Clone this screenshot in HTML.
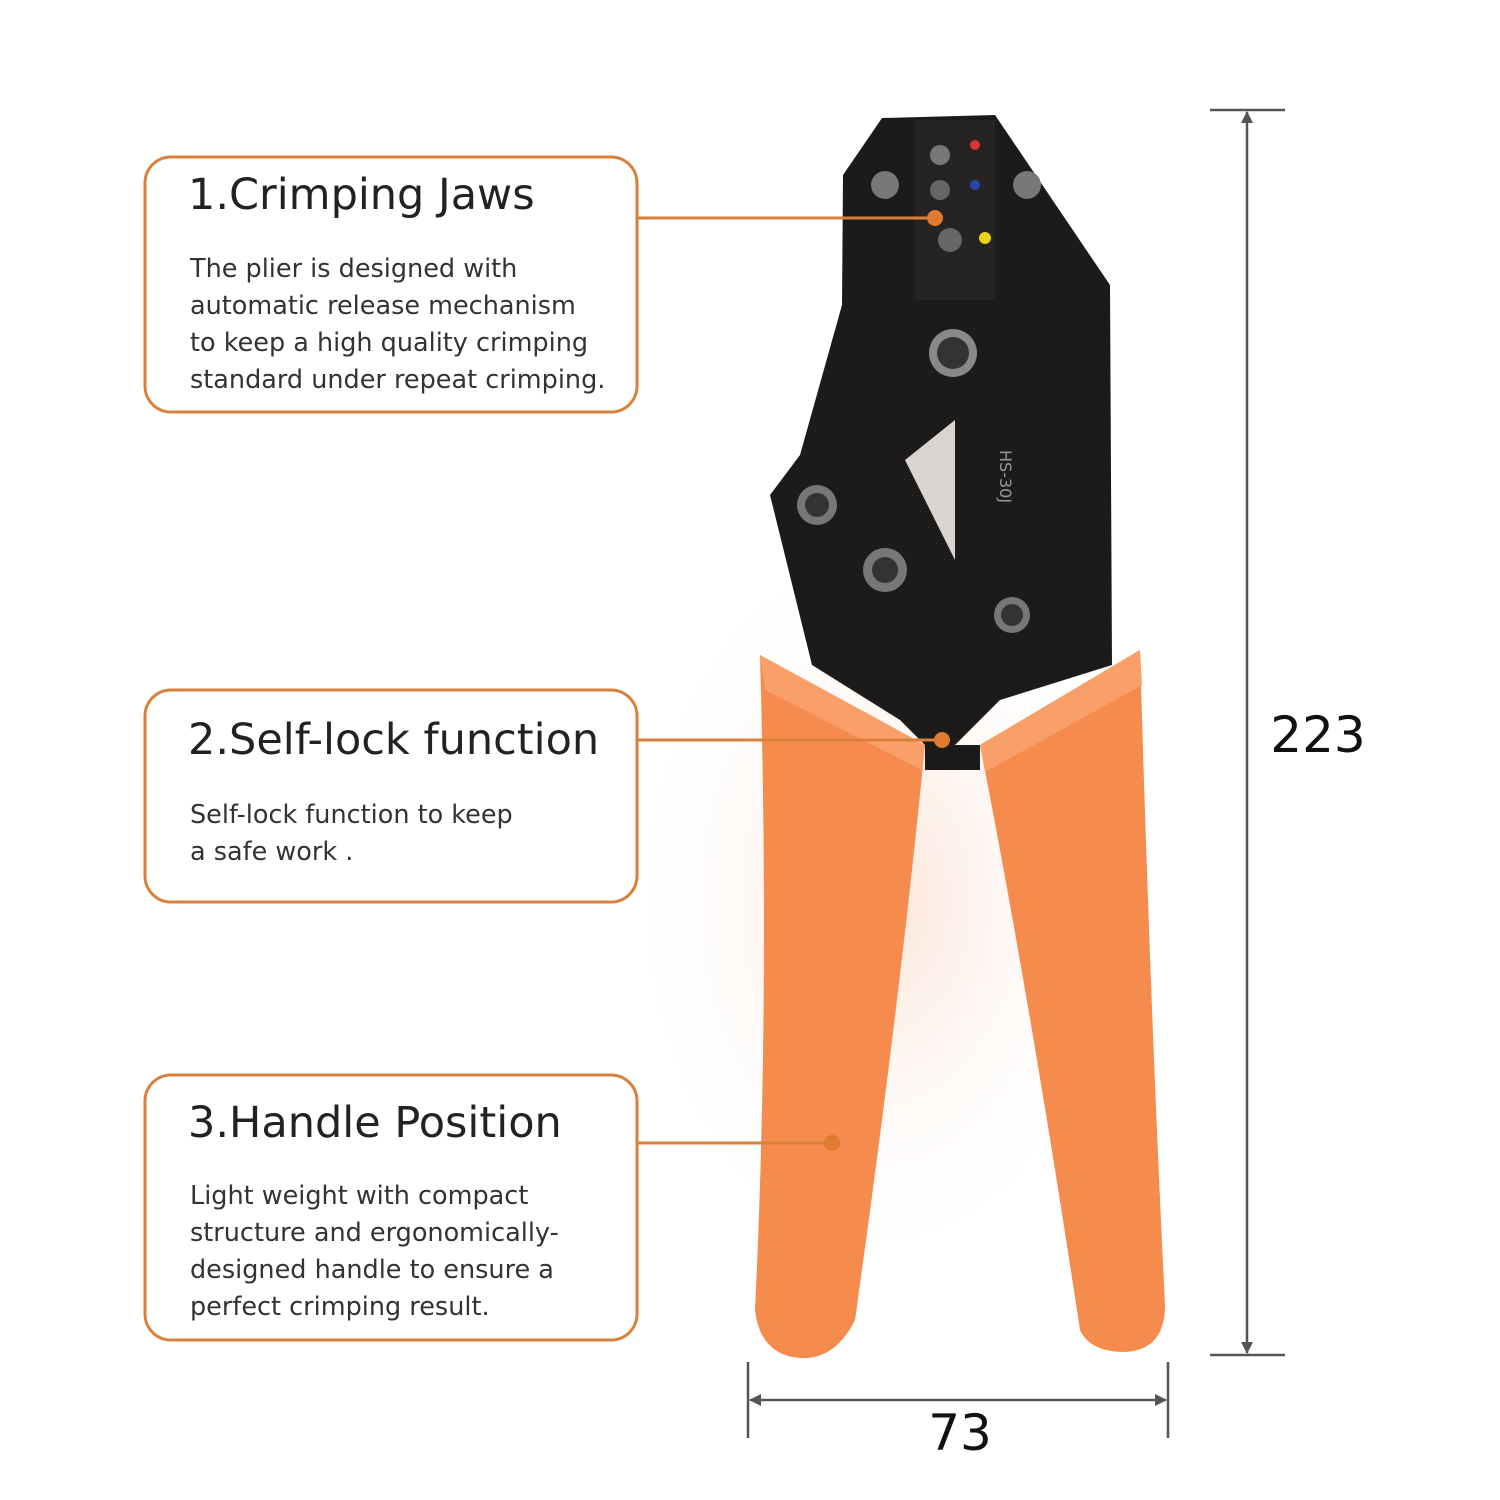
<!DOCTYPE html>
<html><head><meta charset="utf-8"><style>
html,body{margin:0;padding:0;background:#fff}
svg{display:block}
text{font-family:"DejaVu Sans","Liberation Sans",sans-serif}
</style></head><body>
<svg width="1500" height="1500" viewBox="0 0 1500 1500" xmlns="http://www.w3.org/2000/svg">
<defs>
<radialGradient id="glow" cx="0.5" cy="0.5" r="0.5"><stop offset="0" stop-color="#fbe3d6"/><stop offset="1" stop-color="#fff" stop-opacity="0"/></radialGradient>
<marker id="ah" markerWidth="12" markerHeight="12" refX="11" refY="6" orient="auto" markerUnits="userSpaceOnUse"><path d="M0,0 L12,6 L0,12 Z" fill="#555"/></marker>
</defs>
<ellipse cx="880" cy="900" rx="260" ry="380" fill="url(#glow)"/>
<path d="M882,118 L995,115 L1110,285 L1112,665 L1000,700 L940,760 L900,720 L812,665 L770,495 L800,455 L842,305 L843,175 Z" fill="#1d1a1a"/>
<rect x="915" y="120" width="80" height="180" fill="#262323"/>
<circle cx="940" cy="155" r="10" fill="#777"/><circle cx="940" cy="190" r="10" fill="#666"/><circle cx="950" cy="240" r="12" fill="#666"/>
<circle cx="975" cy="145" r="5" fill="#d33"/><circle cx="975" cy="185" r="5" fill="#2748a8"/><circle cx="985" cy="238" r="6" fill="#e8d21a"/>
<circle cx="885" cy="185" r="14" fill="#777"/><circle cx="1027" cy="185" r="14" fill="#777"/>
<circle cx="953" cy="353" r="24" fill="#888"/><circle cx="953" cy="353" r="16" fill="#333"/>
<circle cx="817" cy="505" r="20" fill="#777"/><circle cx="817" cy="505" r="12" fill="#333"/>
<circle cx="885" cy="570" r="22" fill="#777"/><circle cx="885" cy="570" r="13" fill="#333"/>
<circle cx="1012" cy="615" r="18" fill="#777"/><circle cx="1012" cy="615" r="11" fill="#333"/>
<path d="M905,460 L955,420 L955,560 Z" fill="#d8d4d2"/>
<text x="0" y="0" transform="translate(1000,450) rotate(90)" font-size="16" fill="#999">HS-30J</text>
<path d="M760,655 L925,745 Q900,1000 855,1320 Q835,1360 800,1358 Q760,1355 755,1310 Q770,1000 760,655 Z" fill="#f58c4d"/>
<path d="M760,655 L925,745 L922,770 L765,690 Z" fill="#f9a06a"/>
<path d="M980,745 L1140,650 Q1150,1000 1165,1305 Q1165,1350 1125,1352 Q1090,1352 1080,1330 Q1030,1000 980,745 Z" fill="#f58c4d"/>
<path d="M980,745 L1140,650 L1142,685 L985,772 Z" fill="#f9a06a"/>
<rect x="925" y="745" width="55" height="25" fill="#1d1a1a"/>
<g fill="none" stroke="#d9813c" stroke-width="3">
<rect x="145" y="157" width="492" height="255" rx="26"/>
<rect x="145" y="690" width="492" height="212" rx="26"/>
<rect x="145" y="1075" width="492" height="265" rx="26"/>
<line x1="637" y1="218" x2="935" y2="218"/>
<line x1="637" y1="740" x2="942" y2="740"/>
<line x1="637" y1="1143" x2="832" y2="1143"/>
</g>
<g fill="#e07a30"><circle cx="935" cy="218" r="8"/><circle cx="942" cy="740" r="8"/><circle cx="832" cy="1143" r="8"/></g>
<g fill="#222">
<text x="188" y="209" font-size="43">1.Crimping Jaws</text>
<text x="188" y="754" font-size="43">2.Self-lock function</text>
<text x="188" y="1137" font-size="43">3.Handle Position</text>
</g>
<g fill="#333" font-size="25.5">
<text x="190" y="277">The plier is designed with</text>
<text x="190" y="314">automatic release mechanism</text>
<text x="190" y="351">to keep a high quality crimping</text>
<text x="190" y="388">standard under repeat crimping.</text>
<text x="190" y="823">Self-lock function to keep</text>
<text x="190" y="860">a safe work .</text>
<text x="190" y="1204">Light weight with compact</text>
<text x="190" y="1241">structure and ergonomically-</text>
<text x="190" y="1278">designed handle to ensure a</text>
<text x="190" y="1315">perfect crimping result.</text>
</g>
<g stroke="#555" stroke-width="2.5">
<line x1="1210" y1="110" x2="1285" y2="110"/>
<line x1="1210" y1="1355" x2="1285" y2="1355"/>
<line x1="1247" y1="125" x2="1247" y2="112" marker-end="url(#ah)"/>
<line x1="1247" y1="125" x2="1247" y2="1340"/>
<line x1="1247" y1="1340" x2="1247" y2="1353" marker-end="url(#ah)"/>
<line x1="748" y1="1362" x2="748" y2="1438"/>
<line x1="1168" y1="1362" x2="1168" y2="1438"/>
<line x1="765" y1="1400" x2="750" y2="1400" marker-end="url(#ah)"/>
<line x1="765" y1="1400" x2="1150" y2="1400"/>
<line x1="1150" y1="1400" x2="1166" y2="1400" marker-end="url(#ah)"/>
</g>
<text x="1318" y="752" font-size="50" text-anchor="middle" fill="#111" font-family="Liberation Sans,sans-serif">223</text>
<text x="960" y="1450" font-size="50" text-anchor="middle" fill="#111" font-family="Liberation Sans,sans-serif">73</text>
</svg>
</body></html>
